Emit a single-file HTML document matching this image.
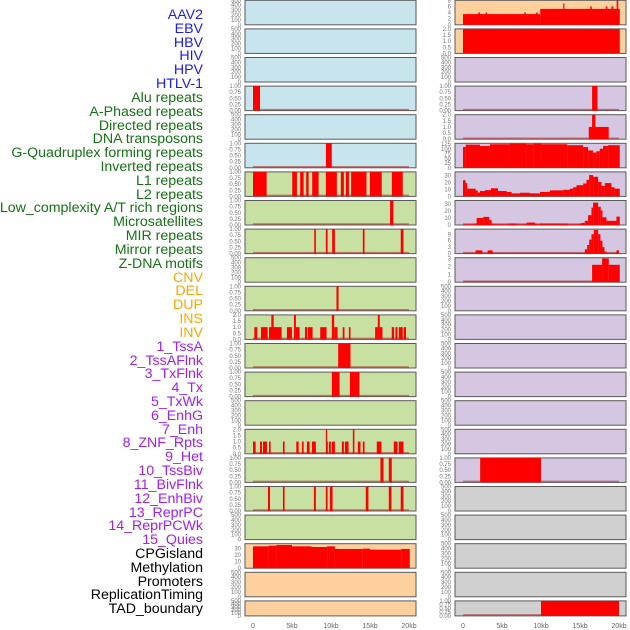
<!DOCTYPE html>
<html><head><meta charset="utf-8">
<style>
html,body{margin:0;padding:0;background:#fff;}
#wrap{position:relative;width:630px;height:630px;overflow:hidden;font-family:"Liberation Sans",sans-serif;}
.lbl{position:absolute;right:427px;font-size:14.2px;line-height:14px;white-space:nowrap;}
svg{position:absolute;left:0;top:0;}
</style></head>
<body>
<div id="wrap">
<svg id="chart" width="630" height="630"></svg>
</div>
<script>
const labels = ["AAV2","EBV","HBV","HIV","HPV","HTLV-1","Alu repeats","A-Phased repeats","Directed repeats","DNA transposons","G-Quadruplex forming repeats","Inverted repeats","L1 repeats","L2 repeats","Low_complexity A/T rich regions","Microsatellites","MIR repeats","Mirror repeats","Z-DNA motifs","CNV","DEL","DUP","INS","INV","1_TssA","2_TssAFlnk","3_TxFlnk","4_Tx","5_TxWk","6_EnhG","7_Enh","8_ZNF_Rpts","9_Het","10_TssBiv","11_BivFlnk","12_EnhBiv","13_ReprPC","14_ReprPCWk","15_Quies","CPGisland","Methylation","Promoters","ReplicationTiming","TAD_boundary"];
const labelColors = [];
for (let i=0;i<labels.length;i++){
  labelColors.push(i<6?"#1a1aff":i<19?"#147314":i<24?"#ffa500":i<39?"#a020f0":"#000");
}
const leftBg = ["b","b","b","b","b","b","g","g","g","g","g","g","g","g","g","g","g","g","g","o","o","o"];
const rightBg = ["o","o","p","p","p","p","p","p","p","p","p","p","p","p","p","p","p","y","y","y","y","y"];
const bgColors = {b:"#c8e4ec",g:"#c8e0a2",o:"#fdd09e",p:"#d5c6e2",y:"#d0d0d0"};
const leftYmax = [0,0,0,1,0,1,1,1,1,0,1,2,1,1,0,2,1,1,0,37,0,0];
const rightYmax = [8,2,0,1,2,130,35,35,11.4,3.1,0,0,0,0,0,0,1,0,0,0,0,1];
const leftData = [
 [],[],[],
 [[0,0.9,1]],
 [],
 [[9.35,10.1,1]],
 [[0,1.75,1],[5.03,5.63,1],[6.05,6.49,1],[6.82,7.13,1],[7.59,8.41,1],[9.34,10.75,1],[11.26,11.65,1],[11.9,12.3,1],[12.58,14.55,1],[14.98,16.5,1],[17.8,19.2,1]],
 [[17.57,18.0,1]],
 [[7.85,8.06,1],[9.34,9.56,1],[10.15,10.5,1],[14.08,14.3,1],[18.94,19.29,1]],
 [],
 [[10.7,10.97,1]],
 [[0.17,0.55,1],[1.02,1.88,1],[2.05,3.67,1],[2.35,2.65,2],[4.35,4.99,1],[5.25,5.5,2],[5.5,5.97,1],[6.66,6.95,1],[7.04,7.64,1],[8.62,9.43,1],[10.11,10.41,2],[10.41,10.84,1],[11.5,11.73,1],[12.29,12.5,1],[15.66,16.0,1],[16.0,16.25,2],[16.25,16.6,1],[17.79,18.09,1],[18.26,18.52,1],[18.69,19.2,1],[19.33,19.62,1]],
 [[10.92,12.5,1]],
 [[10.11,11.1,1],[12.42,13.65,1]],
 [],
 [[0,0.34,1],[0.9,1.15,1],[1.28,1.79,1],[2.05,2.26,1],[3.84,4.05,1],[5.55,5.85,1],[6.27,6.49,1],[6.91,7.25,1],[7.55,8.06,1],[9.34,9.5,2],[9.5,9.6,1],[9.73,9.98,1],[10.11,10.5,1],[11.39,11.65,1],[11.78,12.25,1],[12.8,13.0,2],[13.44,13.78,1],[14.08,14.3,1],[15.87,16.47,1],[18.05,18.52,1],[18.69,19.29,1]],
 [[16.34,16.73,1],[17.41,17.79,1]],
 [[1.92,2.18,1],[3.84,4.05,1],[7.81,8.06,1],[9.34,9.56,1],[9.86,10.2,1],[14.46,14.8,1],[17.41,17.75,1],[18.94,19.29,1]],
 [],
 [[0,2,33],[2,3,34],[3,5,35],[5,7.5,33],[7.5,9.5,32],[9.5,10.5,33],[10.5,14,29],[14,15,29.5],[15,19,28],[19,20.1,29]],
 [],[]
];
const gquadEdges = [0,0.34,2.18,3.46,6.02,8.15,9.0,10.07,13.35,15.4,16.04,16.68,17.1,17.54,17.96,18.6,20.1];
const gquadValues = [110,123,116,125,128,125,128,125,120,110,92,81,88,101,116,120];
const l1Edges = [0,0.34,0.55,1.62,1.88,2.18,2.82,3.58,4.48,5.59,6.23,7.30,8.58,9.86,11.14,12.84,13.70,14.12,14.55,15.40,15.83,16.17,16.68,17.32,17.75,18.18,19.03,19.46,20.1];
const l1Values = [23,19,11,8.6,5.6,7.7,9,11.6,7.7,6.4,4.3,5.2,4.3,6.4,8.6,9.4,11,13,16,18.5,23.6,30.5,28,20.6,15,19,13,11];
const l2Edges = [0,1.45,1.75,2.6,3.37,3.67,3.88,5.8,6.87,8.15,9.22,9.43,9.86,13.40,14.98,15.19,15.62,16.04,16.47,16.68,17.32,17.66,17.88,18.39,19.67,20.1];
const l2Values = [1,2,10,11.6,7,2,1,2,1,3.5,2,1,2,1,2,3,6,14,25,32,26,21,11,6,12];
const mirEdges = [0,1.62,2.48,3.16,3.80,15.62,15.92,16.17,16.47,16.77,17.32,17.62,17.88,18.13,18.39,19.67,20.0];
const mirValues = [0.3,1.5,0.3,1.5,0.3,2,4,6.5,9,11,9,6,3,1,0.3,1.5];
const zdnaEdges = [0,16.55,17.83,18.69,20.1];
const zdnaValues = [0.1,2.2,3,2.2];
function steps(edges, values){ const r=[]; for(let i=0;i<values.length;i++) r.push([edges[i],edges[i+1],values[i]]); return r; }
const rightData = [
 [[0,9.9,3.5],[9.9,20.1,5.2],[1.96,2.18,4],[2.9,3.1,4],[7.85,8.06,4],[9.34,9.56,4],[12.85,13.0,7],[16.3,16.5,6],[18.3,18.5,6],[19.03,19.25,6],[19.7,19.9,8]],
 [[0,20.1,2]],
 [],
 [[16.55,17.24,1]],
 [[16.12,18.68,1],[16.55,16.98,2]],
 steps(gquadEdges,gquadValues),
 steps(l1Edges,l1Values),
 steps(l2Edges,l2Values),
 steps(mirEdges,mirValues),
 steps(zdnaEdges,zdnaValues),
 [],[],[],[],[],[],
 [[2.2,10,1]],
 [],[],[],[],
 [[10,20,1]]
];
const tickSets = {
 0:["0","100","200","300","400","500"], 1:["0.00","0.25","0.50","0.75","1.00"], 2:["0.0","0.5","1.0","1.5","2.0"],
 8:["0","2","4","6","8"], 130:["0","25","50","75","100","125"], 35:["0","10","20","30"], 37:["0","10","20","30"],
 11.4:["0","3","6","9"], 3.1:["0","1","2","3"]
};
const xTicks = ["0","5kb","10kb","15kb","20kb"];
const xTickVals = [0,5,10,15,20];

const NS="http://www.w3.org/2000/svg";
const svg=document.getElementById('chart');
function mk(tag,attrs,parent){const e=document.createElementNS(NS,tag);for(const k in attrs)e.setAttribute(k,attrs[k]);(parent||svg).appendChild(e);return e;}

const wrap=document.getElementById('wrap');
labels.forEach((t,i)=>{
  const d=document.createElement('div');
  d.className='lbl';
  
  
  d.style.top=(8+i*13.82)+'px';
  d.style.color=labelColors[i];
  d.textContent=t;
  wrap.appendChild(d);
});

function rowTop(i){return 28.6*i+0.3;}
function rowH(i){return i===21?15:24.5;}
function drawPanel(side,i,bg,ymax,data){
  const px0 = side==='left'?245:455, pw=171;
  const x0 = side==='left'?253:463;
  const xs = kb=>x0+kb/20*156;
  const top=rowTop(i), h=rowH(i), bottom=top+h;
  const g=mk('g',{});
  
  
  const r=mk('rect',{x:px0,y:top,width:pw,height:h,fill:bgColors[bg],stroke:'#5a5a5a','stroke-width':1},g);
  
  
  const ym = ymax===0?500:ymax;
  const ys = v=>bottom-v/ym*h;
  const ticks=tickSets[ymax];
  ticks.forEach(t=>{
    const v=parseFloat(t);
    const tx=mk('text',{x:px0-4,y:ys(v)+2,'font-size':6,fill:'#777','text-anchor':'end'},g);
    
    
    tx.textContent=t;
  });
  if(data.length){
    const bl=mk('line',{x1:xs(0),x2:xs(20),y1:bottom-1,y2:bottom-1,stroke:'#b03030','stroke-opacity':0.6,'stroke-width':1.5},g);
    
    
  }
  data.forEach(s=>{
    const v=Math.min(s[2],ym);
    const b=mk('rect',{x:xs(s[0]),y:ys(v),width:Math.max(0.8,xs(s[1])-xs(s[0])),height:bottom-ys(v),fill:'#ff0000'},g);
    
    
  });
}
for(let i=0;i<22;i++){
  drawPanel('left',i,leftBg[i],leftYmax[i],leftData[i]);
  drawPanel('right',i,rightBg[i],rightYmax[i],rightData[i]);
}
['left','right'].forEach(side=>{
  const x0= side==='left'?253:463;
  xTickVals.forEach((v,k)=>{
    const t=mk('text',{x:x0+v/20*156,y:628,'font-size':7,fill:'#666','text-anchor':'middle'});
    
    
    t.textContent=xTicks[k];
  });
});
</script>
</body></html>
